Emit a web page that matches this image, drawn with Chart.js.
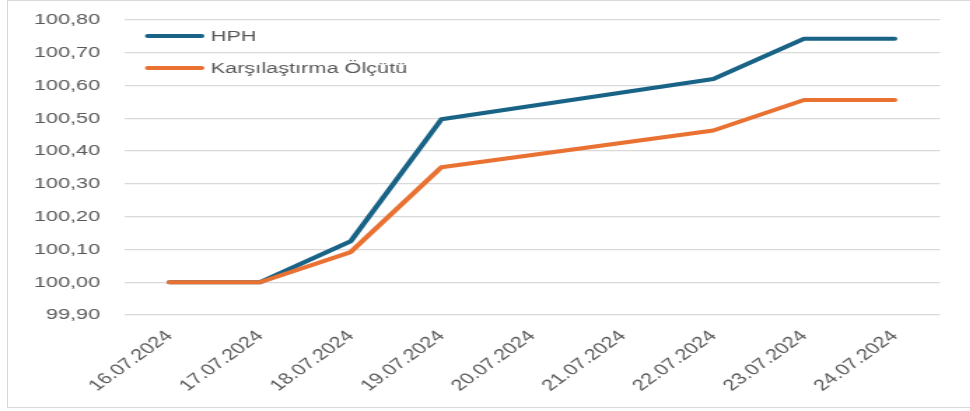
<!doctype html>
<html>

<head>
    <title>HPH</title>
    <script src="https://cdn.jsdelivr.net/npm/chart.js"></script>
    <style>
        body { margin: 0; background: #fff; }
        #frame {
            position: absolute; left: 7px; top: 0; width: 963px; height: 406px;
            border-left: 1px solid #d9d9d9; border-top: 1px solid #d9d9d9; border-bottom: 1px solid #d9d9d9;
        }
        #wrap {
            position: absolute; left: 0; top: 0; width: 693px; height: 411px;
            transform: scaleX(1.4); transform-origin: 0 0;
        }
    </style>
</head>

<body>
    <div id="frame"></div>
    <div id="wrap">
        <canvas id="grafik" width="693" height="411"></canvas>
    </div>

    <script>
        // tarihler (20-21.07 hafta sonu, veri yok)
        const tarihler = ['16.07.2024', '17.07.2024', '18.07.2024', '19.07.2024', '20.07.2024',
            '21.07.2024', '22.07.2024', '23.07.2024', '24.07.2024']
        const hph = [100.00, 100.00, 100.125, 100.497, null, null, 100.62, 100.743, 100.743]
        const olcut = [100.00, 100.00, 100.092, 100.351, null, null, 100.463, 100.556, 100.556]

        const font = "'Liberation Sans', Arial, sans-serif"

        const legendInside = {
            id: 'legendInside',
            afterDraw(chart) {
                const ctx = chart.ctx
                const satirlar = [0, 1]
                satirlar.forEach((i) => {
                    const ds = chart.data.datasets[i]
                    const y = 36 + i * 32
                    ctx.save()
                    ctx.strokeStyle = ds.borderColor
                    ctx.lineWidth = 4
                    ctx.lineCap = 'round'
                    ctx.beginPath()
                    ctx.moveTo(105.5, y)
                    ctx.lineTo(144, y)
                    ctx.stroke()
                    ctx.fillStyle = '#595959'
                    ctx.font = '15.5px ' + font
                    ctx.textBaseline = 'middle'
                    ctx.fillText(ds.label, 150.5, y + 1)
                    ctx.restore()
                })
            }
        }

        new Chart(document.getElementById('grafik').getContext('2d'), {
            type: 'line',
            data: {
                labels: tarihler,
                datasets: [{
                    label: 'HPH',
                    data: hph,
                    borderColor: '#196386',
                    order: 1
                }, {
                    label: 'Karşılaştırma Ölçütü',
                    data: olcut,
                    borderColor: '#e97132',
                    order: 0
                }]
            },
            options: {
                responsive: false,
                animation: false,
                spanGaps: true,
                elements: {
                    line: { borderWidth: 4, tension: 0, borderCapStyle: 'round', borderJoinStyle: 'round' },
                    point: { radius: 0 }
                },
                layout: { padding: { top: 20, right: 21.6, left: 0, bottom: 0 } },
                plugins: {
                    legend: { display: false },
                    tooltip: { enabled: false }
                },
                scales: {
                    x: {
                        offset: true,
                        grid: { display: false, drawTicks: false },
                        border: { display: false },
                        ticks: {
                            maxRotation: 45, minRotation: 45, padding: 12,
                            color: '#595959', font: { family: font, size: 15.5 }
                        },
                        afterFit(scale) {
                            scale.height = 96
                            scale.paddingLeft = 0
                            scale.paddingRight = 0
                        }
                    },
                    y: {
                        min: 99.9,
                        max: 100.8,
                        grid: { color: '#d9d9d9', lineWidth: 1.3, drawTicks: false },
                        border: { display: false },
                        ticks: {
                            stepSize: 0.1, padding: 17,
                            color: '#595959', font: { family: font, size: 15.5 },
                            callback: (v) => v.toFixed(2).replace('.', ',')
                        },
                        afterFit(scale) {
                            scale.width = 88.6
                            scale.paddingTop = 0
                            scale.paddingBottom = 0
                        }
                    }
                }
            },
            plugins: [legendInside]
        });
    </script>
</body>

</html>
